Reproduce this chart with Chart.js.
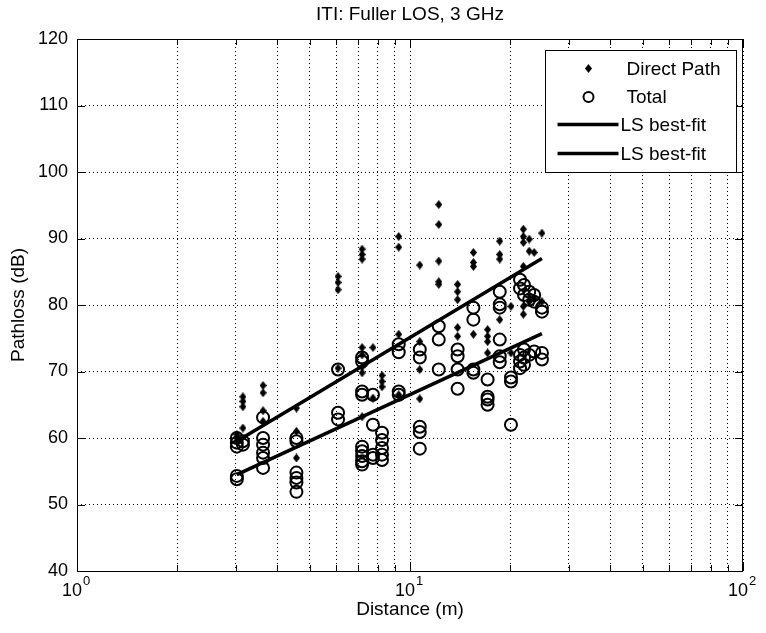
<!DOCTYPE html>
<html>
<head>
<meta charset="utf-8">
<title>ITI: Fuller LOS, 3 GHz</title>
<script src="https://cdn.jsdelivr.net/npm/chart.js@4.4.1/dist/chart.umd.min.js"></script>
<style>
  html, body { margin: 0; padding: 0; background: #fff; }
  #wrap { width: 766px; height: 633px; }
</style>
</head>
<body>
<div id="wrap"><canvas id="pathloss-chart"></canvas></div>
<script>
// Direct path samples (distance in m, pathloss in dB)
const directDistance = [
  3.02, 3.02, 3.02,
  3.15, 3.15, 3.15, 3.15,
  3.62, 3.62, 3.62, 3.62,
  4.56, 4.56, 4.56,
  6.08, 6.08, 6.08, 6.08,
  7.18, 7.18, 7.18, 7.18, 7.18, 7.18, 7.18, 7.18,
  7.74, 7.74,
  8.24, 8.24, 8.24,
  9.25, 9.25, 9.25, 9.25,
  10.7, 10.7, 10.7, 10.7,
  12.2, 12.2, 12.2, 12.2, 12.2,
  13.9, 13.9, 13.9, 13.9, 13.9,
  15.5, 15.5, 15.5, 15.5,
  17.1, 17.1, 17.1, 17.1,
  18.6, 18.6, 18.6, 18.6,
  20.1, 20.1,
  21.9, 21.9, 21.9, 21.9, 21.9, 21.9,
  22.8, 22.8, 22.8,
  23.6, 23.6,
  24.9, 24.9,
];
const directLoss = [
  60.5, 60.0, 59.5,
  66.2, 65.5, 64.7, 61.5,
  67.9, 66.8, 64.1, 62.5,
  64.5, 61.0, 57.0,
  84.3, 83.4, 82.3, 70.5,
  88.4, 87.6, 86.9, 73.6, 72.5, 70.7, 69.8, 63.2,
  73.6, 66.0,
  69.4, 68.5, 67.7,
  90.3, 88.7, 75.6, 66.5,
  86.0, 74.5, 70.3, 65.9,
  95.1, 92.1, 86.6, 83.5, 83.1,
  83.1, 82.0, 80.8, 76.6, 75.3,
  87.9, 86.4, 85.8, 75.6,
  76.3, 75.3, 74.5, 72.8,
  89.6, 87.6, 86.9, 77.8,
  79.8, 72.8,
  91.4, 90.3, 89.4, 85.8, 79.8, 78.6,
  89.9, 88.1, 80.5,
  87.9, 81.0,
  90.8, 80.5,
];

// Total (direct + reflected) samples
const totalDistance = [
  3.02, 3.02, 3.02, 3.02, 3.02,
  3.15, 3.15,
  3.62, 3.62, 3.62, 3.62, 3.62, 3.62,
  4.56, 4.56, 4.56, 4.56, 4.56, 4.56,
  6.08, 6.08, 6.08,
  7.18, 7.18, 7.18, 7.18, 7.18, 7.18, 7.18, 7.18, 7.18,
  7.74, 7.74, 7.74, 7.74,
  8.24, 8.24, 8.24, 8.24, 8.24,
  9.25, 9.25, 9.25, 9.25,
  10.7, 10.7, 10.7, 10.7, 10.7,
  12.2, 12.2, 12.2,
  13.9, 13.9, 13.9, 13.9,
  15.5, 15.5, 15.5, 15.5,
  17.1, 17.1, 17.1, 17.1,
  18.6, 18.6, 18.6, 18.6, 18.6, 18.6,
  20.1, 20.1, 20.1,
  21.4, 21.4, 21.4, 21.4, 21.4,
  22.0, 22.0, 22.0, 22.0, 22.0,
  22.8, 22.8, 22.8,
  23.6, 23.6, 23.6,
  24.9, 24.9, 24.9, 24.9,
];
const totalLoss = [
  60.0, 59.3, 58.7, 54.3, 53.8,
  59.5, 59.0,
  63.1, 60.0, 59.0, 57.8, 57.0, 55.5,
  60.0, 59.5, 54.8, 54.0, 53.3, 51.9,
  70.3, 63.8, 62.8,
  72.1, 71.5, 67.0, 66.5, 58.7, 58.0, 57.3, 56.5, 56.0,
  66.5, 62.0, 57.5, 57.0,
  60.8, 59.7, 58.5, 57.5, 56.7,
  74.1, 72.9, 67.0, 66.5,
  73.3, 72.1, 61.7, 60.9, 58.4,
  76.8, 74.8, 70.3,
  73.3, 72.3, 70.3, 67.4,
  79.6, 77.8, 70.3, 69.8,
  68.8, 66.2, 65.8, 65.0,
  82.0, 80.1, 79.6, 74.8, 72.3, 71.4,
  69.1, 68.5, 62.0,
  83.8, 82.5, 72.5, 71.5, 70.5,
  83.0, 81.5, 73.3, 72.1, 71.0,
  82.0, 80.8, 72.5,
  81.5, 80.5, 73.0,
  79.6, 79.0, 72.8, 71.8,
];

// Least-squares fits: end points only (straight on a log-distance axis)
const fitDistance = [3.02, 24.9];
const fitDirect = [59.5, 87.0];
const fitTotal = [54.5, 75.7];

// Axis ticks; decades get a label as base + exponent
const xTickValues = [1, 2, 3, 4, 5, 6, 7, 8, 9, 10, 20, 30, 40, 50, 60, 70, 80, 90, 100];
const xDecades = [1, 10, 100];
const xExponents = ["0", "1", "2"];
const yTickValues = [40, 50, 60, 70, 80, 90, 100, 110, 120];

const FONT = "'Liberation Sans', Arial, Helvetica, sans-serif";

// Filled diamond marker, a bit taller than wide like the original
function diamondMarker(w, h) {
  const c = document.createElement("canvas");
  c.width = w;
  c.height = h;
  const g = c.getContext("2d");
  g.fillStyle = "#000";
  g.beginPath();
  g.moveTo(w / 2, 0);
  g.lineTo(w, h / 2);
  g.lineTo(w / 2, h);
  g.lineTo(0, h / 2);
  g.closePath();
  g.fill();
  return c;
}
const diamond = diamondMarker(7, 9);

function toPoints(xs, ys) {
  return xs.map((x, i) => ({ x: x, y: ys[i] }));
}

// Box around the axes, inward tick marks and 10^n labels (matlab style)
const axesFrame = {
  id: "axesFrame",
  afterDatasetsDraw(chart) {
    const { ctx, chartArea: a, scales } = chart;
    ctx.save();
    ctx.strokeStyle = "#000";
    ctx.lineWidth = 1;
    ctx.setLineDash([]);
    ctx.beginPath();
    xTickValues.forEach((v) => {
      const px = Math.round(scales.x.getPixelForValue(v)) + 0.5;
      const len = xDecades.includes(v) ? 9 : 6;
      ctx.moveTo(px, a.bottom);
      ctx.lineTo(px, a.bottom - len);
      ctx.moveTo(px, a.top);
      ctx.lineTo(px, a.top + len);
    });
    yTickValues.forEach((v) => {
      const py = Math.round(scales.y.getPixelForValue(v)) + 0.5;
      ctx.moveTo(a.left, py);
      ctx.lineTo(a.left + 8, py);
      ctx.moveTo(a.right, py);
      ctx.lineTo(a.right - 8, py);
    });
    ctx.stroke();
    ctx.strokeRect(Math.round(a.left) + 0.5, Math.round(a.top) + 0.5,
      Math.round(a.right - a.left) - 1, Math.round(a.bottom - a.top));

    ctx.fillStyle = "#000";
    ctx.textBaseline = "alphabetic";
    xDecades.forEach((v, i) => {
      const px = scales.x.getPixelForValue(v);
      ctx.font = "18px " + FONT;
      ctx.textAlign = "right";
      ctx.fillText("10", px + 5, a.bottom + 25);
      ctx.font = "13px " + FONT;
      ctx.textAlign = "left";
      ctx.fillText(xExponents[i], px + 6, a.bottom + 14);
    });
    ctx.restore();
  },
};

// Legend box in the upper right corner of the axes
const legendBox = {
  id: "legendBox",
  afterDraw(chart) {
    const { ctx, chartArea: a } = chart;
    const w = 191, h = 122;
    const left = Math.round(a.right - 7 - w) + 0.5;
    const top = Math.round(a.top + 11) + 0.5;
    ctx.save();
    ctx.fillStyle = "#fff";
    ctx.fillRect(left, top, w, h);
    ctx.strokeStyle = "#000";
    ctx.lineWidth = 1;
    ctx.strokeRect(left, top, w, h);

    const rows = [18, 46.5, 74, 103];
    ctx.font = "19px " + FONT;
    ctx.fillStyle = "#000";
    ctx.textBaseline = "middle";
    ctx.textAlign = "left";

    chart.data.datasets.forEach((ds, i) => {
      const y = top + rows[i];
      if (ds.type === "line") {
        ctx.lineWidth = ds.borderWidth;
        ctx.beginPath();
        ctx.moveTo(left + 12, y);
        ctx.lineTo(left + 73, y);
        ctx.stroke();
        ctx.fillText(ds.label, left + 75, y + 1);
      } else if (ds.pointStyle === "circle") {
        ctx.lineWidth = ds.borderWidth;
        ctx.beginPath();
        ctx.arc(left + 43, y, ds.pointRadius - 1, 0, Math.PI * 2);
        ctx.stroke();
        ctx.fillText(ds.label, left + 81, y + 1);
      } else {
        ctx.drawImage(diamond, left + 43 - diamond.width / 2, y - diamond.height / 2);
        ctx.fillText(ds.label, left + 81, y + 1);
      }
    });
    ctx.restore();
  },
};

const ctx = document.getElementById("pathloss-chart").getContext("2d");
const chart = new Chart(ctx, {
  type: "scatter",
  data: {
    datasets: [
      {
        label: "Direct Path",
        data: toPoints(directDistance, directLoss),
        pointStyle: diamond,
        pointRadius: 4,
        order: 4,
      },
      {
        label: "Total",
        data: toPoints(totalDistance, totalLoss),
        pointStyle: "circle",
        pointRadius: 6,
        borderWidth: 2,
        borderColor: "#000",
        backgroundColor: "rgba(0,0,0,0)",
        order: 3,
      },
      {
        type: "line",
        label: "LS best-fit",
        data: toPoints(fitDistance, fitDirect),
        borderColor: "#000",
        borderWidth: 3.5,
        pointRadius: 0,
        fill: false,
        order: 2,
      },
      {
        type: "line",
        label: "LS best-fit",
        data: toPoints(fitDistance, fitTotal),
        borderColor: "#000",
        borderWidth: 3.5,
        pointRadius: 0,
        fill: false,
        order: 1,
      },
    ],
  },
  options: {
    responsive: true,
    maintainAspectRatio: false,
    devicePixelRatio: 1,
    animation: false,
    events: [],
    layout: { padding: { left: 0, right: 23, top: 0, bottom: 0 } },
    plugins: {
      legend: { display: false },
      tooltip: { enabled: false },
      title: {
        display: true,
        text: "ITI: Fuller LOS, 3 GHz",
        fullSize: false,
        color: "#000",
        font: { family: FONT, size: 19, weight: "normal", lineHeight: "23px" },
        padding: { top: 3, bottom: 13 },
      },
    },
    scales: {
      x: {
        type: "logarithmic",
        min: 1,
        max: 100,
        afterBuildTicks(scale) {
          scale.ticks = xTickValues.map((v) => ({ value: v }));
        },
        afterFit(scale) {
          scale.height = 62;
        },
        ticks: {
          autoSkip: false,
          maxRotation: 0,
          callback: () => "",
        },
        grid: { color: "#000", lineWidth: 1, drawTicks: false },
        border: { display: false, dash: [1, 3] },
        title: {
          display: true,
          text: "Distance (m)",
          color: "#000",
          font: { family: FONT, size: 19 },
          padding: { top: 0, bottom: 12 },
        },
      },
      y: {
        min: 40,
        max: 120,
        afterBuildTicks(scale) {
          scale.ticks = yTickValues.map((v) => ({ value: v }));
        },
        afterFit(scale) {
          scale.width = 77;
        },
        ticks: {
          padding: 9,
          color: "#000",
          font: { family: FONT, size: 18 },
        },
        grid: { color: "#000", lineWidth: 1, drawTicks: false },
        border: { display: false, dash: [1, 3] },
        title: {
          display: true,
          text: "Pathloss (dB)",
          color: "#000",
          font: { family: FONT, size: 19 },
          padding: { top: 7, bottom: 0 },
        },
      },
    },
  },
  plugins: [axesFrame, legendBox],
});
</script>
</body>
</html>
